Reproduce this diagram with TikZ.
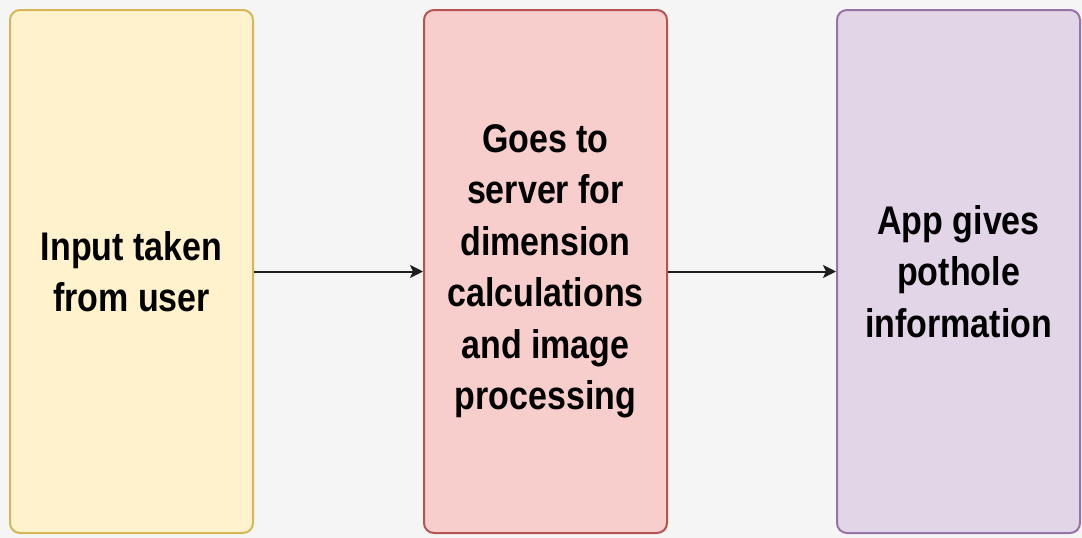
\documentclass[tikz,border=0pt]{standalone}
\usepackage{fontspec}
\setmainfont{Liberation Sans}[FakeStretch=0.85]
\usetikzlibrary{arrows.meta}
\definecolor{bgc}{HTML}{F5F5F5}
\definecolor{yfill}{HTML}{FFF2CC}
\definecolor{ydraw}{HTML}{D6B656}
\definecolor{rfill}{HTML}{F8CECC}
\definecolor{rdraw}{HTML}{B85450}
\definecolor{pfill}{HTML}{E1D5E7}
\definecolor{pdraw}{HTML}{9673A6}
\definecolor{arr}{HTML}{1E1E1E}
\tikzset{
  stepbox/.style={rounded corners=10pt, line width=2pt, minimum width=243pt, minimum height=523pt,
    inner sep=0pt, align=center, text=black,
    font=\fontsize{40}{51.5}\selectfont\bfseries},
  flow/.style={-{Stealth[length=13pt,width=13pt,inset=3pt]}, line width=2pt, draw=arr}
}
\begin{document}
\begin{tikzpicture}[x=1pt,y=-1pt]
\fill[bgc] (0,0) rectangle (1082,538);
\useasboundingbox (0,0) rectangle (1082,538);
\node[stepbox, fill=yfill, draw=ydraw] (a) at (131.5,271.5) {Input taken\\from user};
\node[stepbox, fill=rfill, draw=rdraw] (b) at (545.5,271.5) {Goes to\\server for\\dimension\\calculations\\and image\\processing};
\node[stepbox, fill=pfill, draw=pdraw] (c) at (958.5,271.5) {App gives\\pothole\\information};
\draw[flow] (a.east) -- (b.west);
\draw[flow] (b.east) -- (c.west);
\end{tikzpicture}
\end{document}
